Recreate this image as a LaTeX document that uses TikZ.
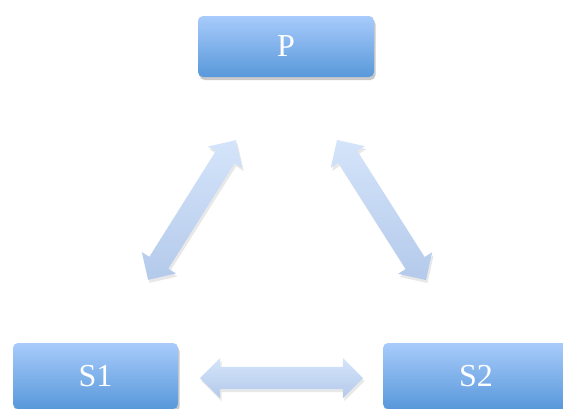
\documentclass[tikz,border=0pt]{standalone}
\usepackage{fontspec}
\setmainfont{Liberation Serif}
\usetikzlibrary{shapes.arrows,shadows,calc}
\definecolor{boxtop}{HTML}{A8CBFB}
\definecolor{boxbot}{HTML}{5898DA}
\definecolor{arrlight}{HTML}{D4E4FA}
\definecolor{arrdark}{HTML}{B4CAEB}
\tikzset{
  box/.style={rectangle, rounded corners=5pt, top color=boxtop, bottom color=boxbot,
    draw=none, text=white, font=\fontsize{32}{32}\selectfont, inner sep=0pt,
    drop shadow={opacity=0.3, shadow xshift=1.5pt, shadow yshift=-3pt, fill=black!70}},
  dbl/.style={double arrow, double arrow head extend=9pt, inner xsep=0pt, inner ysep=11pt,
    draw=none, top color=arrlight, bottom color=arrdark,
    drop shadow={opacity=0.15, shadow xshift=1.5pt, shadow yshift=-3pt, fill=black!60}}
}
\begin{document}
\begin{tikzpicture}[x=1pt,y=-1pt]
\useasboundingbox (0,0) rectangle (563,408);
\node[box, minimum width=176pt, minimum height=61pt] (P) at (286,46.5) {P};
\node[box, minimum width=165pt, minimum height=66pt] (S1) at (95.5,376) {S1};
\node[box, minimum width=186pt, minimum height=66pt] (S2) at (476,376) {S2};
\node[dbl, minimum height=165pt, rotate=57.85] (a1) at (192,210) {};
\node[dbl, minimum height=166pt, rotate=122.4] (a2) at (381.5,210) {};
\node[dbl, minimum height=163pt] (a3) at (281.5,378) {};
\end{tikzpicture}
\end{document}
